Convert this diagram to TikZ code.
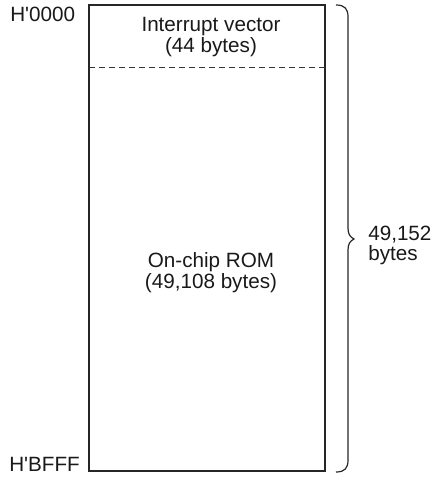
\documentclass[tikz,border=0pt]{standalone}
\usepackage{fontspec}
\setmainfont{Liberation Sans}
\begin{document}
\begin{tikzpicture}[x=0.75pt,y=-0.75pt,
  lbl/.style={font=\fontsize{15.5}{18}\selectfont, inner sep=0pt, text=black!90},
  boxline/.style={draw=black!85, line width=1.1pt},
  dashline/.style={draw=black!80, line width=0.6pt, dash pattern=on 4.5pt off 3pt},
  braceline/.style={draw=black!85, line width=0.9pt}]
\useasboundingbox (0,0) rectangle (441,477);
% memory box
\coordinate (tl) at (89,5);
\coordinate (br) at (325,471);
\draw[boxline] (tl) rectangle (br);
\coordinate (dl) at (89,67);
\coordinate (dr) at (325,67);
\draw[dashline] (dl) -- (dr);
% labels in box
\node[lbl, anchor=base] (iv1) at (211,32) {Interrupt vector};
\node[lbl, anchor=base] (iv2) at (211,53) {(44 bytes)};
\node[lbl, anchor=base] (rom1) at (211,267) {On-chip ROM};
\node[lbl, anchor=base] (rom2) at (211,288) {(49,108 bytes)};
% address labels
\node[lbl, anchor=base west] (a0) at (10,22) {H\textquotesingle0000};
\node[lbl, anchor=base west] (a1) at (9,471) {H\textquotesingle BFFF};
% brace
\coordinate (bt) at (336,5);
\coordinate (bb) at (336,472);
\coordinate (btip) at (354,239);
\draw[braceline] (bt) .. controls (345,5) and (348,9) .. (348,17)
  -- (348,228) .. controls (348,234) and (350,237) .. (btip)
  .. controls (350,241) and (348,244) .. (348,250)
  -- (348,460) .. controls (348,468) and (345,472) .. (bb);
\node[lbl, anchor=base west] (s1) at (368,240) {49,152};
\node[lbl, anchor=base west] (s2) at (368,260) {bytes};
\end{tikzpicture}
\end{document}
